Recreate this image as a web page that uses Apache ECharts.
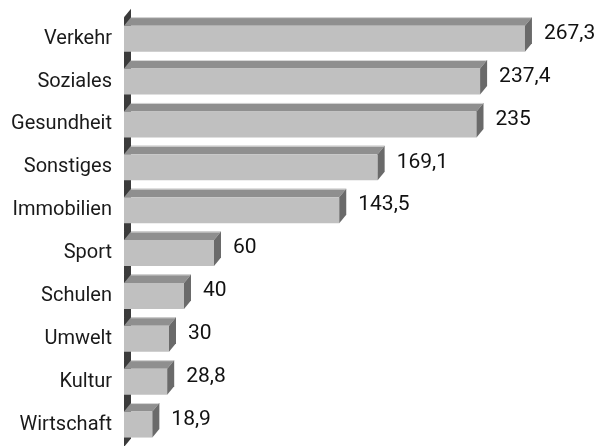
<!DOCTYPE html>
<html>
<head>
<meta charset="utf-8">
<style>
html,body{margin:0;padding:0;background:#fff;}
#c{width:602px;height:446px;}
</style>
<script src="https://cdn.jsdelivr.net/npm/echarts@6/dist/echarts.min.js"></script>
</head>
<body>
<div id="c"></div>
<script>
var categories = ['Verkehr','Soziales','Gesundheit','Sonstiges','Immobilien','Sport','Schulen','Umwelt','Kultur','Wirtschaft'];
var values = [267.3, 237.4, 235, 169.1, 143.5, 60, 40, 30, 28.8, 18.9];

var DX = 7, DY = 8.5, BAR_H = 26;
var FONT = 'Roboto, "Liberation Sans", sans-serif';

var data = values.map(function (v, i) { return [v, i]; });

var chart = echarts.init(document.getElementById('c'), null, {renderer: 'canvas'});

function wallItem(params, api) {
  var p = api.coord([0, api.value(1)]);
  var band = api.size([0, 1])[1];
  var x0 = p[0], t = p[1] - band / 2, b = p[1] + band / 2 + 1;
  return {
    type: 'polygon',
    shape: {points: [[x0, t], [x0 + DX, t - DY], [x0 + DX, b - DY], [x0, b]]},
    style: {fill: '#3b3b3b'}
  };
}

function barItem(params, api) {
  var v = api.value(0);
  var p0 = api.coord([0, api.value(1)]);
  var p1 = api.coord([v, api.value(1)]);
  var x0 = p0[0], x1 = p1[0], cy = p0[1];
  var t = cy - BAR_H / 2, b = cy + BAR_H / 2;
  return {
    type: 'group',
    children: [
      {type: 'polygon', shape: {points: [[x0, t], [x0 + DX, t - DY], [x1 + DX, t - DY], [x1, t]]},
        style: {fill: '#8f8f8f'}},
      {type: 'line', shape: {x1: x0 + DX, y1: t - DY + 0.5, x2: x1 + DX, y2: t - DY + 0.5},
        style: {stroke: '#d9d9d9', lineWidth: 1}},
      {type: 'rect', shape: {x: x0, y: t, width: x1 - x0, height: b - t},
        style: {fill: '#c0c0c0'}},
      {type: 'polygon', shape: {points: [[x1, t], [x1 + DX, t - DY], [x1 + DX, b - DY], [x1, b]]},
        style: {fill: '#6a6a6a'}},
      {type: 'text', x: x1 + 19, y: cy - 5,
        style: {text: String(v).replace('.', ','), fill: '#111', font: '21px ' + FONT,
          verticalAlign: 'middle', align: 'left'}}
    ]
  };
}

chart.setOption({
  animation: false,
  grid: {left: 124, width: 450, top: 17.2, height: 435.5},
  xAxis: {type: 'value', min: 0, max: 300, show: false},
  yAxis: {
    type: 'category', data: categories, inverse: true,
    axisLine: {show: false}, axisTick: {show: false}, splitLine: {show: false},
    axisLabel: {fontSize: 20, fontFamily: FONT, color: '#1a1a1a', margin: 12}
  },
  series: [
    {type: 'custom', renderItem: wallItem, data: data, encode: {x: 0, y: 1}, clip: false, silent: true},
    {type: 'custom', renderItem: barItem, data: data, encode: {x: 0, y: 1}, clip: false, silent: true}
  ]
});
</script>
</body>
</html>
